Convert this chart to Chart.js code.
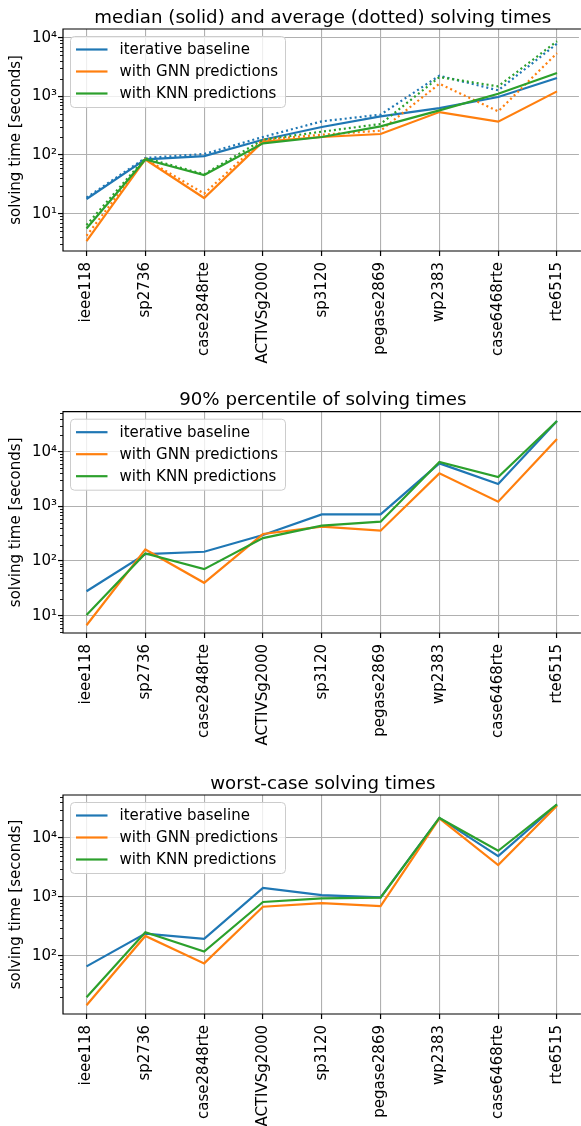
<!DOCTYPE html>
<html>
<head>
<meta charset="utf-8">
<script src="https://cdn.jsdelivr.net/npm/chart.js@4.4.0/dist/chart.umd.min.js"></script>
<style>
  html, body { margin: 0; padding: 0; background: #fff; overflow: hidden; }
  canvas { position: absolute; left: 0; }
</style>
</head>
<body>
<canvas id="c1" width="581" height="380" style="top:0px"></canvas>
<canvas id="c2" width="581" height="380" style="top:380px"></canvas>
<canvas id="c3" width="581" height="366" style="top:760px"></canvas>
<script>
// test cases on the x axis
const cases = ["ieee118", "sp2736", "case2848rte", "ACTIVSg2000", "sp3120",
  "pegase2869", "wp2383", "case6468rte", "rte6515"];
const methods = ["iterative baseline", "with GNN predictions", "with KNN predictions"];
const colors = ["#1f77b4", "#ff7f0e", "#2ca02c"];

// median (solid) solving times [s]
const medianBaseline = [17.8, 84, 96, 182, 300, 457, 630, 975, 2050];
const medianGNN      = [3.4, 84, 18.5, 169, 203, 228, 540, 370, 1217];
const medianKNN      = [5.6, 84, 45.6, 158, 203, 308, 577, 1110, 2500];

// average (dotted) solving times [s]
const meanBaseline = [18.8, 89, 104, 203, 375, 488, 2250, 1266, 7900];
const meanGNN      = [4.2, 86, 22, 182, 222, 260, 1640, 555, 5460];
const meanKNN      = [6.4, 89, 47, 182, 250, 338, 2130, 1480, 8700];

// 90% percentile [s]
const p90Baseline = [28, 134, 148, 299, 714, 714, 6120, 2560, 36400];
const p90GNN      = [6.7, 163, 40, 312, 425, 359, 4020, 1216, 17100];
const p90KNN      = [10.3, 138, 71, 263, 443, 525, 6480, 3440, 36400];

// worst case [s]
const worstBaseline = [66.7, 240, 195, 1420, 1080, 986, 21900, 4930, 37000];
const worstGNN      = [14.6, 219, 75, 684, 790, 703, 21600, 3470, 35100];
const worstKNN      = [20, 253, 119, 822, 948, 975, 21900, 6080, 37000];

// y tick labels (decades)
const yTicks1 = [10, 100, 1000, 10000];
const yTicks2 = [10, 100, 1000, 10000];
const yTicks3 = [100, 1000, 10000];
const sup = { 1: "\u00b9", 2: "\u00b2", 3: "\u00b3", 4: "\u2074" };

Chart.defaults.font.family = "'DejaVu Sans'";
Chart.defaults.font.size = 15;
Chart.defaults.color = "#000";

const toPoints = (arr) => arr.map((v, i) => ({ x: i, y: v }));

// title, legend box, spines and minor ticks like matplotlib
const decorPlugin = {
  id: "decor",
  afterDraw(chart, args, opts) {
    const ctx = chart.ctx;
    const a = chart.chartArea;
    const y = chart.scales.y;
    ctx.save();
    // minor ticks
    ctx.strokeStyle = "#000";
    ctx.lineWidth = 0.9;
    const lo = Math.floor(Math.log10(y.min));
    const hi = Math.ceil(Math.log10(y.max));
    for (let d = lo; d <= hi; d++) {
      for (let k = 2; k <= 9; k++) {
        const v = k * Math.pow(10, d);
        if (v < y.min || v > y.max) continue;
        const py = Math.round(y.getPixelForValue(v)) + 0.5;
        ctx.beginPath();
        ctx.moveTo(a.left, py);
        ctx.lineTo(a.left - 3, py);
        ctx.stroke();
      }
    }
    // spines
    ctx.lineWidth = 1.2;
    ctx.beginPath();
    ctx.moveTo(a.right + 2, a.top);
    ctx.lineTo(a.left, a.top);
    ctx.lineTo(a.left, a.bottom);
    ctx.lineTo(a.right + 2, a.bottom);
    ctx.stroke();
    // title
    ctx.fillStyle = "#000";
    ctx.font = "18.2px 'DejaVu Sans'";
    ctx.textAlign = "center";
    ctx.textBaseline = "alphabetic";
    ctx.fillText(opts.title, (a.left + 582.6) / 2, a.top - 6.5);
    // legend
    const bx = a.left + 7.5, by = a.top + 7.5, bw = 215, bh = 71;
    ctx.beginPath();
    ctx.roundRect(bx, by, bw, bh, 4);
    ctx.fillStyle = "rgba(255,255,255,0.8)";
    ctx.fill();
    ctx.strokeStyle = "#cccccc";
    ctx.lineWidth = 1;
    ctx.stroke();
    ctx.font = "15px 'DejaVu Sans'";
    ctx.textAlign = "left";
    ctx.textBaseline = "middle";
    methods.forEach((m, i) => {
      const ry = by + 13 + i * 22;
      ctx.strokeStyle = colors[i];
      ctx.lineWidth = 2.2;
      ctx.beginPath();
      ctx.moveTo(bx + 5.5, ry);
      ctx.lineTo(bx + 37, ry);
      ctx.stroke();
      ctx.fillStyle = "#000";
      ctx.fillText(m, bx + 49, ry + 1);
    });
    ctx.restore();
  }
};

function makePanel(id, title, solid, dotted, yMin, yMax, yTicks, top, xHeight) {
  const datasets = [];
  let order = 20;
  solid.forEach((s, i) => {
    datasets.push({
      label: methods[i], data: toPoints(s), borderColor: colors[i],
      borderWidth: 2.2, pointRadius: 0, tension: 0, order: order--
    });
    if (dotted) {
      datasets.push({
        label: methods[i] + " (avg)", data: toPoints(dotted[i]), borderColor: colors[i],
        borderWidth: 2.2, borderDash: [2, 3], pointRadius: 0, tension: 0, order: order--
      });
    }
  });
  return new Chart(document.getElementById(id), {
    type: "line",
    data: { datasets },
    options: {
      responsive: false,
      animation: false,
      layout: { padding: { top: top, left: 0, right: 0, bottom: 0 } },
      plugins: { legend: { display: false }, tooltip: { enabled: false }, decor: { title } },
      scales: {
        x: {
          type: "linear", min: -0.4, max: 8.373,
          afterBuildTicks: (sc) => { sc.ticks = cases.map((c, i) => ({ value: i })); },
          afterFit: (sc) => { sc.height = xHeight; },
          ticks: {
            autoSkip: false, maxRotation: 90, minRotation: 90, padding: 6,
            callback: (v) => cases[v]
          },
          grid: { color: "#b0b0b0", lineWidth: 1.1, tickColor: "#000", tickLength: 5, tickWidth: 1.2 },
          border: { display: false }
        },
        y: {
          type: "logarithmic", min: yMin, max: yMax,
          afterBuildTicks: (sc) => { sc.ticks = yTicks.map((v) => ({ value: v })); },
          afterFit: (sc) => { sc.width = 63; },
          ticks: {
            padding: 1,
            callback: (v) => "10" + sup[Math.round(Math.log10(v))]
          },
          grid: { color: "#b0b0b0", lineWidth: 1.1, tickColor: "#000", tickLength: 5, tickWidth: 1.2 },
          border: { display: false },
          title: { display: true, text: "solving time [seconds]", padding: { top: 7, bottom: 0 }, font: { size: 15 } }
        }
      }
    },
    plugins: [decorPlugin]
  });
}

makePanel("c1", "median (solid) and average (dotted) solving times",
  [medianBaseline, medianGNN, medianKNN], [meanBaseline, meanGNN, meanKNN],
  2.31, 14070, yTicks1, 29, 129);
makePanel("c2", "90% percentile of solving times",
  [p90Baseline, p90GNN, p90KNN], null, 4.83, 53920, yTicks2, 31.7, 127);
makePanel("c3", "worst-case solving times",
  [worstBaseline, worstGNN, worstKNN], null, 10.4, 53560, yTicks3, 35, 112);
</script>
</body>
</html>
